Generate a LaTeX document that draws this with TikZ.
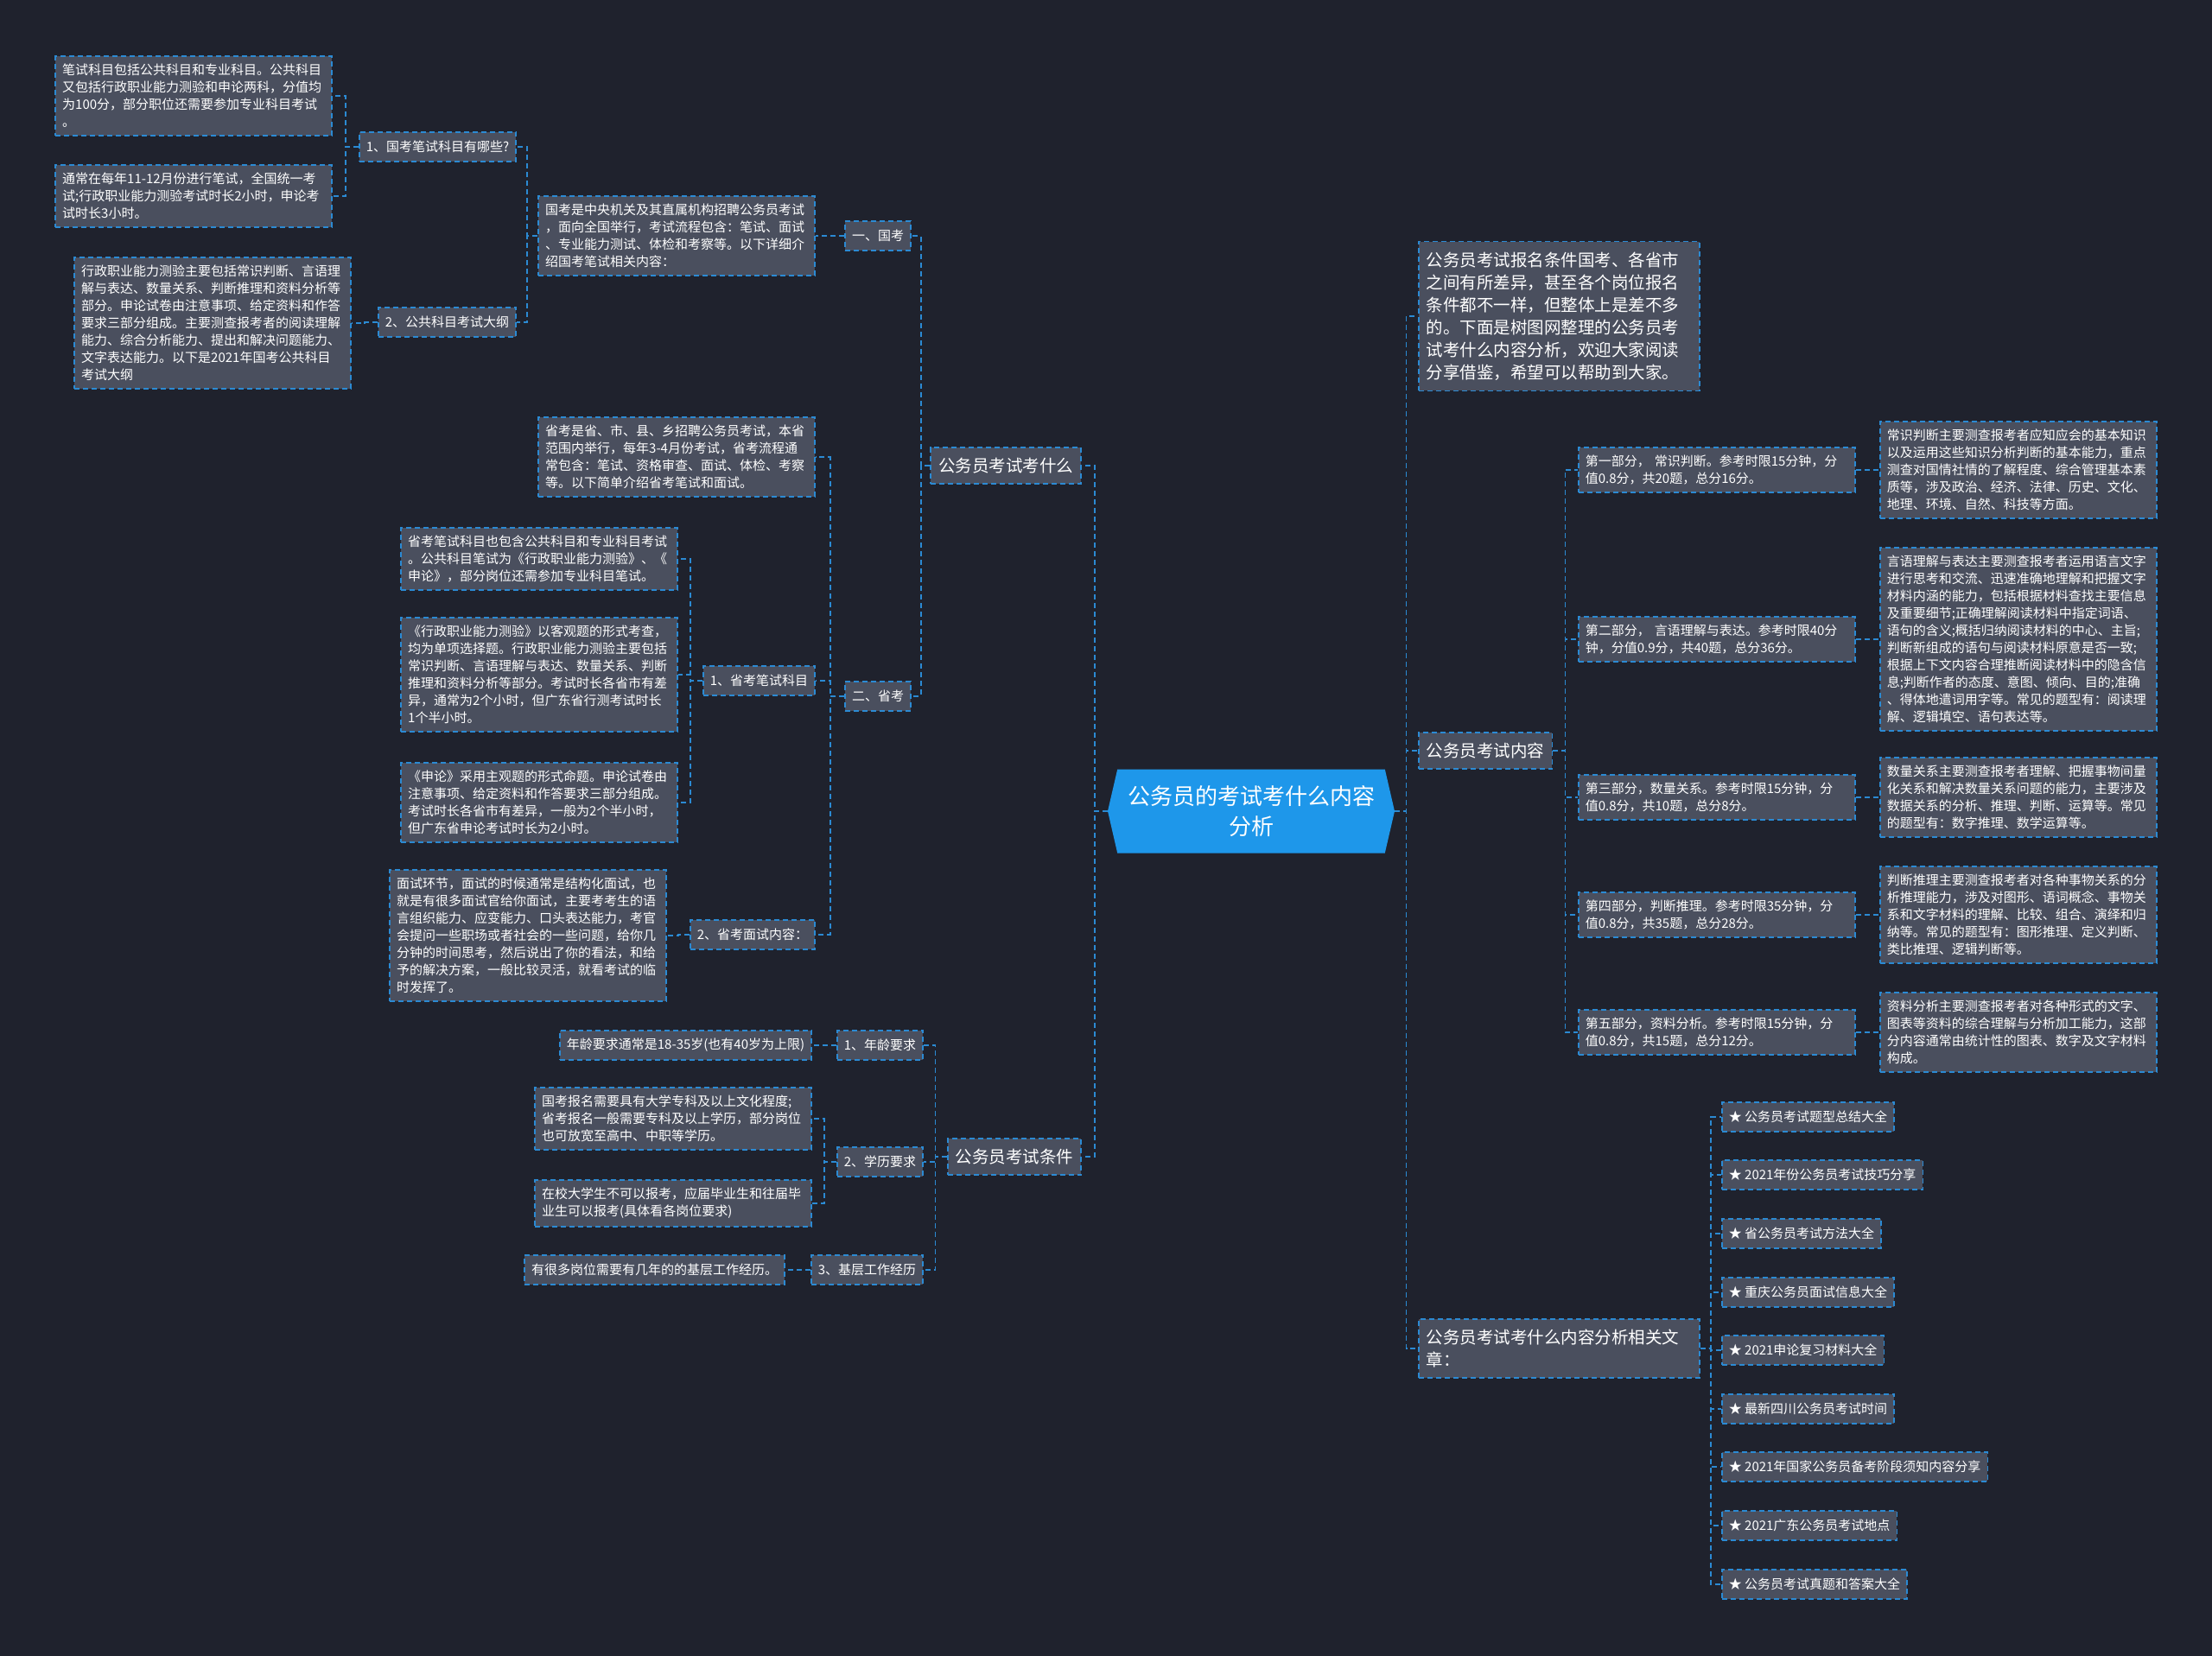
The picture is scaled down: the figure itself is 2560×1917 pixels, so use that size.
\documentclass[tikz,border=0pt]{standalone}
\usepackage{fontspec}
\setmainfont{Noto Sans CJK SC}
\usetikzlibrary{positioning, calc, shapes.symbols}
\definecolor{bgdark}{HTML}{1F222D}
\definecolor{boxgray}{HTML}{4A4F5E}
\definecolor{linkblue}{HTML}{2B8AD3}
\definecolor{rootblue}{HTML}{1E97EA}
\tikzset{
    root/.style={
        signal, signal to=west and east, signal pointer angle=154,
        fill=rootblue, text=white, inner sep=0pt,
        minimum width=332pt, minimum height=97pt,
        font=\fontsize{26}{35}\selectfont, align=center
    },
    topic/.style={
        rectangle, draw=linkblue, fill=boxgray, text=white,
        line width=1.6pt, dash pattern=on 6pt off 4pt,
        minimum height=42pt, inner xsep=9pt, inner ysep=12pt,
        font=\fontsize{19.5}{26}\selectfont, align=left
    },
    item/.style={
        rectangle, draw=linkblue, fill=boxgray, text=white,
        line width=1.6pt, dash pattern=on 6pt off 4pt,
        minimum height=34pt, inner xsep=8pt, inner ysep=9pt,
        font=\fontsize{15}{20}\selectfont, align=left
    },
    leaf/.style={item, text width=304pt},
    link/.style={
        draw=linkblue, line width=1.6pt, dash pattern=on 6pt off 4pt,
        to path={-| ($(\tikztostart)!.5!(\tikztotarget)$) |- (\tikztotarget)}
    }
}
\begin{document}
\begin{tikzpicture}[x=1pt, y=-1pt]
    \fill[bgdark] (0,0) rectangle (2560,1917);
    \useasboundingbox (0,0) rectangle (2560,1917);

    \node[root] (root) at (1448,939) {公务员的考试考什么内容\\分析};

    % left: 公务员考试考什么
    \node[topic, anchor=east] (m1) at (1252,539) {公务员考试考什么};
    \node[item, anchor=east] (y1) at (1055,273) {一、国考};
    \node[leaf, anchor=east] (g1) at (944,273) {国考是中央机关及其直属机构招聘公务员考试\\，面向全国举行，考试流程包含：笔试、面试\\、专业能力测试、体检和考察等。以下详细介\\绍国考笔试相关内容：};
    \node[item, anchor=east] (n1) at (598,170) {1、国考笔试科目有哪些?};
    \node[item, anchor=east] (n2) at (598,373) {2、公共科目考试大纲};
    \node[leaf, anchor=east] (a1) at (385,111) {笔试科目包括公共科目和专业科目。公共科目\\又包括行政职业能力测验和申论两科，分值均\\为100分，部分职位还需要参加专业科目考试\\。};
    \node[leaf, anchor=east] (a2) at (385,227) {通常在每年11-12月份进行笔试，全国统一考\\试;行政职业能力测验考试时长2小时，申论考\\试时长3小时。};
    \node[leaf, anchor=east] (a3) at (407,374) {行政职业能力测验主要包括常识判断、言语理\\解与表达、数量关系、判断推理和资料分析等\\部分。申论试卷由注意事项、给定资料和作答\\要求三部分组成。主要测查报考者的阅读理解\\能力、综合分析能力、提出和解决问题能力、\\文字表达能力。以下是2021年国考公共科目\\考试大纲};
    \node[item, anchor=east] (y2) at (1055,806) {二、省考};
    \node[leaf, anchor=east] (g2) at (944,529) {省考是省、市、县、乡招聘公务员考试，本省\\范围内举行，每年3-4月份考试，省考流程通\\常包含：笔试、资格审查、面试、体检、考察\\等。以下简单介绍省考笔试和面试。};
    \node[item, anchor=east] (p1) at (944,788) {1、省考笔试科目};
    \node[item, anchor=east] (p2) at (944,1082) {2、省考面试内容：};
    \node[leaf, anchor=east] (s1) at (785,647) {省考笔试科目也包含公共科目和专业科目考试\\。公共科目笔试为《行政职业能力测验》、《\\申论》，部分岗位还需参加专业科目笔试。};
    \node[leaf, anchor=east] (s2) at (785,781) {《行政职业能力测验》以客观题的形式考查，\\均为单项选择题。行政职业能力测验主要包括\\常识判断、言语理解与表达、数量关系、判断\\推理和资料分析等部分。考试时长各省市有差\\异，通常为2个小时，但广东省行测考试时长\\1个半小时。};
    \node[leaf, anchor=east] (s3) at (785,929) {《申论》采用主观题的形式命题。申论试卷由\\注意事项、给定资料和作答要求三部分组成。\\考试时长各省市有差异，一般为2个半小时，\\但广东省申论考试时长为2小时。};
    \node[leaf, anchor=east] (f1) at (772,1083) {面试环节，面试的时候通常是结构化面试，也\\就是有很多面试官给你面试，主要考考生的语\\言组织能力、应变能力、口头表达能力，考官\\会提问一些职场或者社会的一些问题，给你几\\分钟的时间思考，然后说出了你的看法，和给\\予的解决方案，一般比较灵活，就看考试的临\\时发挥了。};

    % left: 公务员考试条件
    \node[topic, anchor=east] (m2) at (1252,1339) {公务员考试条件};
    \node[item, anchor=east] (q1) at (1069,1210) {1、年龄要求};
    \node[item, anchor=east] (q2) at (1069,1345) {2、学历要求};
    \node[item, anchor=east] (q3) at (1069,1470) {3、基层工作经历};
    \node[item, anchor=east] (r1) at (940,1210) {年龄要求通常是18-35岁(也有40岁为上限)};
    \node[leaf, anchor=east] (r2) at (940,1295) {国考报名需要具有大学专科及以上文化程度;\\省考报名一般需要专科及以上学历，部分岗位\\也可放宽至高中、中职等学历。};
    \node[leaf, anchor=east] (r3) at (940,1393) {在校大学生不可以报考，应届毕业生和往届毕\\业生可以报考(具体看各岗位要求)};
    \node[item, anchor=east] (r4) at (909,1470) {有很多岗位需要有几年的的基层工作经历。};

    % right side
    \node[topic, anchor=west, text width=307pt] (t1) at (1641,366) {公务员考试报名条件国考、各省市\\之间有所差异，甚至各个岗位报名\\条件都不一样，但整体上是差不多\\的。下面是树图网整理的公务员考\\试考什么内容分析，欢迎大家阅读\\分享借鉴，希望可以帮助到大家。};
    \node[topic, anchor=west] (m3) at (1641,869) {公务员考试内容};
    \node[leaf, anchor=west] (k1) at (1826,544) {第一部分， 常识判断。参考时限15分钟，分\\值0.8分，共20题，总分16分。};
    \node[leaf, anchor=west] (k2) at (1826,740) {第二部分， 言语理解与表达。参考时限40分\\钟，分值0.9分，共40题，总分36分。};
    \node[leaf, anchor=west] (k3) at (1826,923) {第三部分，数量关系。参考时限15分钟，分\\值0.8分，共10题，总分8分。};
    \node[leaf, anchor=west] (k4) at (1826,1059) {第四部分，判断推理。参考时限35分钟，分\\值0.8分，共35题，总分28分。};
    \node[leaf, anchor=west] (k5) at (1826,1195) {第五部分，资料分析。参考时限15分钟，分\\值0.8分，共15题，总分12分。};
    \node[leaf, anchor=west] (d1) at (2175,544) {常识判断主要测查报考者应知应会的基本知识\\以及运用这些知识分析判断的基本能力，重点\\测查对国情社情的了解程度、综合管理基本素\\质等，涉及政治、经济、法律、历史、文化、\\地理、环境、自然、科技等方面。};
    \node[leaf, anchor=west] (d2) at (2175,740) {言语理解与表达主要测查报考者运用语言文字\\进行思考和交流、迅速准确地理解和把握文字\\材料内涵的能力，包括根据材料查找主要信息\\及重要细节;正确理解阅读材料中指定词语、\\语句的含义;概括归纳阅读材料的中心、主旨;\\判断新组成的语句与阅读材料原意是否一致;\\根据上下文内容合理推断阅读材料中的隐含信\\息;判断作者的态度、意图、倾向、目的;准确\\、得体地遣词用字等。常见的题型有：阅读理\\解、逻辑填空、语句表达等。};
    \node[leaf, anchor=west] (d3) at (2175,923) {数量关系主要测查报考者理解、把握事物间量\\化关系和解决数量关系问题的能力，主要涉及\\数据关系的分析、推理、判断、运算等。常见\\的题型有：数字推理、数学运算等。};
    \node[leaf, anchor=west] (d4) at (2175,1059) {判断推理主要测查报考者对各种事物关系的分\\析推理能力，涉及对图形、语词概念、事物关\\系和文字材料的理解、比较、组合、演绎和归\\纳等。常见的题型有：图形推理、定义判断、\\类比推理、逻辑判断等。};
    \node[leaf, anchor=west] (d5) at (2175,1195) {资料分析主要测查报考者对各种形式的文字、\\图表等资料的综合理解与分析加工能力，这部\\分内容通常由统计性的图表、数字及文字材料\\构成。};
    \node[topic, anchor=west, text width=307pt] (m4) at (1641,1561) {公务员考试考什么内容分析相关文\\章：};
    \node[item, anchor=west] (l1) at (1992,1293) {★ 公务员考试题型总结大全};
    \node[item, anchor=west] (l2) at (1992,1360) {★ 2021年份公务员考试技巧分享};
    \node[item, anchor=west] (l3) at (1992,1428) {★ 省公务员考试方法大全};
    \node[item, anchor=west] (l4) at (1992,1496) {★ 重庆公务员面试信息大全};
    \node[item, anchor=west] (l5) at (1992,1563) {★ 2021申论复习材料大全};
    \node[item, anchor=west] (l6) at (1992,1631) {★ 最新四川公务员考试时间};
    \node[item, anchor=west] (l7) at (1992,1698) {★ 2021年国家公务员备考阶段须知内容分享};
    \node[item, anchor=west] (l8) at (1992,1766) {★ 2021广东公务员考试地点};
    \node[item, anchor=west] (l9) at (1992,1834) {★ 公务员考试真题和答案大全};

    % connectors
    \draw[link] (root.west) to (m1.east);
    \draw[link] (root.west) to (m2.east);
    \draw[link] (root.east) to (t1.west);
    \draw[link] (root.east) to (m3.west);
    \draw[link] (root.east) to (m4.west);
    \draw[link] (m1.west) to (y1.east);
    \draw[link] (m1.west) to (y2.east);
    \draw[link] (y1.west) to (g1.east);
    \draw[link] (g1.west) to (n1.east);
    \draw[link] (g1.west) to (n2.east);
    \draw[link] (n1.west) to (a1.east);
    \draw[link] (n1.west) to (a2.east);
    \draw[link] (n2.west) to (a3.east);
    \draw[link] (y2.west) to (g2.east);
    \draw[link] (y2.west) to (p1.east);
    \draw[link] (y2.west) to (p2.east);
    \draw[link] (p1.west) to (s1.east);
    \draw[link] (p1.west) to (s2.east);
    \draw[link] (p1.west) to (s3.east);
    \draw[link] (p2.west) to (f1.east);
    \draw[link] (m2.west) to (q1.east);
    \draw[link] (m2.west) to (q2.east);
    \draw[link] (m2.west) to (q3.east);
    \draw[link] (q1.west) to (r1.east);
    \draw[link] (q2.west) to (r2.east);
    \draw[link] (q2.west) to (r3.east);
    \draw[link] (q3.west) to (r4.east);
    \draw[link] (m3.east) to (k1.west);
    \draw[link] (m3.east) to (k2.west);
    \draw[link] (m3.east) to (k3.west);
    \draw[link] (m3.east) to (k4.west);
    \draw[link] (m3.east) to (k5.west);
    \draw[link] (k1.east) to (d1.west);
    \draw[link] (k2.east) to (d2.west);
    \draw[link] (k3.east) to (d3.west);
    \draw[link] (k4.east) to (d4.west);
    \draw[link] (k5.east) to (d5.west);
    \draw[link] (m4.east) to (l1.west);
    \draw[link] (m4.east) to (l2.west);
    \draw[link] (m4.east) to (l3.west);
    \draw[link] (m4.east) to (l4.west);
    \draw[link] (m4.east) to (l5.west);
    \draw[link] (m4.east) to (l6.west);
    \draw[link] (m4.east) to (l7.west);
    \draw[link] (m4.east) to (l8.west);
    \draw[link] (m4.east) to (l9.west);
\end{tikzpicture}
\end{document}
